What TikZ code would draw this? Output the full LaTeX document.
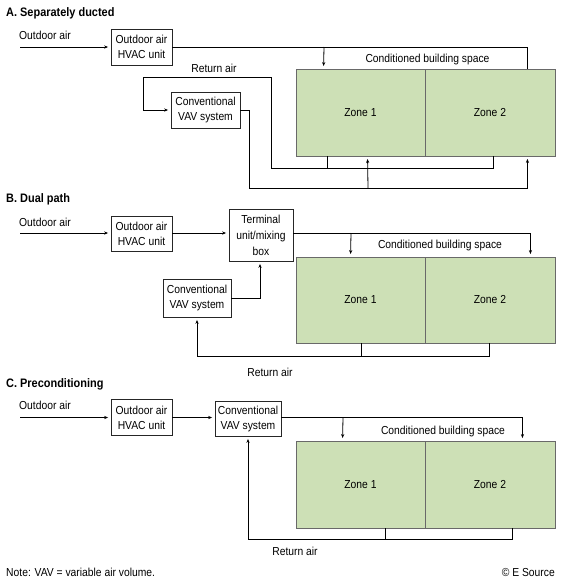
\documentclass[tikz,border=0pt]{standalone}
\usepackage{fontspec}
\setmainfont{Liberation Sans}[FakeStretch=0.89]
\usetikzlibrary{arrows.meta}
\definecolor{zonefill}{RGB}{205,224,182}
\definecolor{zoneline}{RGB}{105,105,105}
\begin{document}
\begin{tikzpicture}[x=1pt,y=-1pt,
  every node/.style={font=\fontsize{11.6}{15}\selectfont, inner sep=0pt},
  unitbox/.style={draw=black!85, fill=white, line width=0.8pt, align=center, minimum width=61pt, minimum height=36pt},
  zonebox/.style={draw=zoneline, fill=zonefill, line width=0.9pt, minimum height=87pt},
  flow/.style={line width=0.8pt},
  arr/.style={flow, -{Stealth[length=4pt,width=3.2pt]}, shorten >=2.5pt},
  titletext/.style={anchor=west, font=\fontsize{12.3}{14}\selectfont\bfseries}]
\useasboundingbox (0,0) rectangle (562,582);

% ---------------- A ----------------
\node[titletext] (tA) at (6,13) {A. Separately ducted};
\node (oaA) at (45,35) {Outdoor air};
\node[unitbox] (hvacA) at (141.5,47) {Outdoor air\\HVAC unit};
\node[unitbox, minimum width=69pt] (vavA) at (205.5,110) {Conventional\\VAV system};
\node[zonebox, minimum width=129pt] (zone1A) at (360.5,112.5) {Zone 1};
\node[zonebox, minimum width=130pt] (zone2A) at (490,112.5) {Zone 2};
\node (cbsA) at (427.5,59) {Conditioned building space};
\node (raA) at (214,68) {Return air};

\coordinate (inA) at (20,47);
\draw[arr] (inA) -- (hvacA.west);
\draw[flow] (hvacA.east) -| ([xshift=-28pt]zone2A.north east);
\draw[arr] (324,47) -- ([xshift=28pt]zone1A.north west);
\draw[arr] ([xshift=32pt]zone1A.south west) |- (271,168) |- (143,77) |- (vavA.west);
\draw[flow] ([xshift=-62pt]zone2A.south east) |- (328,168);
\draw[arr] (vavA.east) -| (249,188) -| ([xshift=-28pt]zone2A.south east);
\draw[arr] (368,188) -- ([xshift=72pt]zone1A.south west);

% ---------------- B ----------------
\node[titletext] (tB) at (6,199) {B. Dual path};
\node (oaB) at (45,222) {Outdoor air};
\node[unitbox, minimum height=35pt] (hvacB) at (141.5,234) {Outdoor air\\HVAC unit};
\node[unitbox, minimum width=64pt, minimum height=52pt, font=\fontsize{11.6}{16}\selectfont] (termB) at (261,235) {Terminal\\unit/mixing\\box};
\node[unitbox, minimum width=68pt, minimum height=38pt] (vavB) at (197,298) {Conventional\\VAV system};
\node[zonebox, minimum width=129pt, minimum height=86pt] (zone1B) at (360.5,300) {Zone 1};
\node[zonebox, minimum width=130pt, minimum height=86pt] (zone2B) at (490,300) {Zone 2};
\node (cbsB) at (440,245) {Conditioned building space};
\node (raB) at (270,372) {Return air};

\coordinate (inB) at (20,233);
\draw[arr] (inB) -- (inB -| hvacB.west);
\draw[arr] (inB -| hvacB.east) -- (inB -| termB.west);
\draw[arr] (inB -| termB.east) -| ([xshift=-25pt]zone2B.north east);
\draw[arr] (351,233) -- ([xshift=55pt]zone1B.north west);
\draw[arr] (vavB.east) -| ([xshift=-1pt]termB.south);
\draw[arr] ([xshift=-66pt]zone2B.south east) |- (197,356) -- (vavB.south);
\draw[flow] ([xshift=66pt]zone1B.south west) -- ++(0,13);

% ---------------- C ----------------
\node[titletext] (tC) at (6,384) {C. Preconditioning};
\node (oaC) at (45,405) {Outdoor air};
\node[unitbox] (hvacC) at (141.5,417.5) {Outdoor air\\HVAC unit};
\node[unitbox, minimum width=66pt, minimum height=35pt] (vavC) at (248,418.5) {Conventional\\VAV system};
\node[zonebox, minimum width=129pt] (zone1C) at (360.5,484.5) {Zone 1};
\node[zonebox, minimum width=130pt] (zone2C) at (490,484.5) {Zone 2};
\node (cbsC) at (443,431) {Conditioned building space};
\node (raC) at (295,551) {Return air};

\coordinate (inC) at (20,417.5);
\draw[arr] (inC) -- (hvacC.west);
\draw[arr] (hvacC.east) -- (inC -| vavC.west);
\draw[arr] (inC -| vavC.east) -| ([xshift=-33pt]zone2C.north east);
\draw[arr] (343,417.5) -- ([xshift=47pt]zone1C.north west);
\draw[arr] ([xshift=-43pt]zone2C.south east) |- (248,539) -- (vavC.south);
\draw[flow] ([xshift=90pt]zone1C.south west) -- ++(0,11);

% ---------------- footer ----------------
\node[anchor=west] (note) at (6,572) {Note: VAV = variable air volume.};
\node[anchor=east] (src) at (555,572) {© E Source};
\end{tikzpicture}
\end{document}
